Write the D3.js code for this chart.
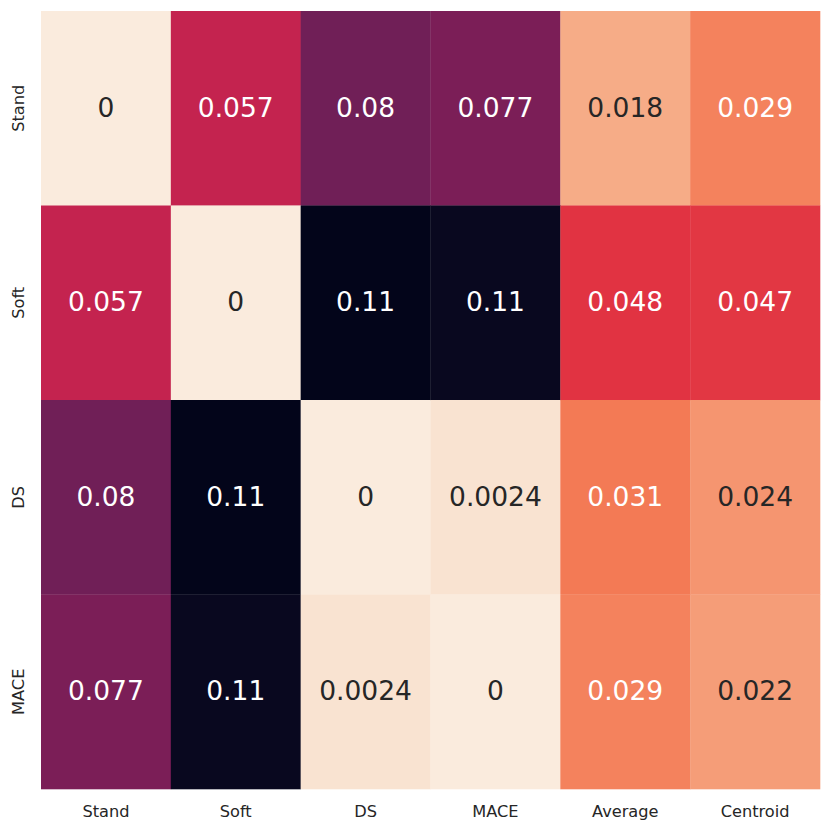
<!DOCTYPE html>
<html>
<head>
<meta charset="utf-8">
<script src="https://cdn.jsdelivr.net/npm/d3@7"></script>
<style>
  html, body { margin: 0; padding: 0; background: #ffffff; }
  svg { display: block; }
</style>
</head>
<body>
<svg id="chart" width="831" height="831"></svg>
<script>
const rowLabels = ["Stand", "Soft", "DS", "MACE"];
const colLabels = ["Stand", "Soft", "DS", "MACE", "Average", "Centroid"];
const rowStand = [0, 0.057, 0.080, 0.077, 0.018, 0.029];
const rowSoft  = [0.057, 0, 0.112, 0.110, 0.048, 0.047];
const rowDS    = [0.080, 0.112, 0, 0.0024, 0.031, 0.024];
const rowMACE  = [0.077, 0.110, 0.0024, 0, 0.029, 0.022];
const values = [rowStand, rowSoft, rowDS, rowMACE];

// rocket colormap anchors (seaborn)
const rocketStops = ["#03051a", "#35193e", "#701f57", "#ad1759", "#e13342", "#f37651", "#f6b48f", "#faebdd"];
const rocketPos = [0, 1/7, 2/7, 3/7, 4/7, 5/7, 6/7, 1];

const cells = [];
values.forEach((row, i) => row.forEach((v, j) => cells.push({r: rowLabels[i], c: colLabels[j], v})));

const vmin = d3.min(cells, d => d.v), vmax = d3.max(cells, d => d.v);
const rocket = d3.scaleLinear().domain(rocketPos).range(rocketStops).interpolate(d3.interpolateRgb);
// rocket_r
const color = v => rocket(1 - (v - vmin) / (vmax - vmin));

function lum(c) {
  const rgb = d3.rgb(c);
  const f = x => { x /= 255; return x <= 0.03928 ? x / 12.92 : Math.pow((x + 0.055) / 1.055, 2.4); };
  return 0.2126 * f(rgb.r) + 0.7152 * f(rgb.g) + 0.0722 * f(rgb.b);
}

const svg = d3.select("#chart");
const mLeft = 41, mRight = 820, mTop = 11, mBottom = 789;
const x = d3.scaleBand().domain(colLabels).range([mLeft, mRight]);
const y = d3.scaleBand().domain(rowLabels).range([mTop, mBottom]);

svg.append("g").selectAll("rect").data(cells).join("rect")
  .attr("x", d => x(d.c)).attr("y", d => y(d.r))
  .attr("width", x.bandwidth() + 0.3).attr("height", y.bandwidth() + 0.3)
  .attr("fill", d => color(d.v));

const fmt = d3.format(".2~g");
svg.append("g").selectAll("text").data(cells).join("text")
  .attr("x", d => x(d.c) + x.bandwidth() / 2)
  .attr("y", d => y(d.r) + y.bandwidth() / 2)
  .attr("text-anchor", "middle").attr("dy", "0.33em")
  .attr("font-family", "DejaVu Sans").attr("font-size", 26.5)
  .attr("fill", d => lum(color(d.v)) > 0.408 ? "#262626" : "#ffffff")
  .text(d => fmt(d.v));

const xAxis = d3.axisBottom(x).tickSize(0).tickPadding(16);
const gx = svg.append("g").attr("transform", `translate(0,${mBottom})`).call(xAxis);
gx.select(".domain").remove();
gx.selectAll("text").attr("font-family", "DejaVu Sans").attr("font-size", 16.2).attr("fill", "#262626");

const yAxis = d3.axisLeft(y).tickSize(0).tickPadding(0);
const gy = svg.append("g").attr("transform", `translate(${mLeft},0)`).call(yAxis);
gy.select(".domain").remove();
gy.selectAll("text")
  .attr("font-family", "DejaVu Sans").attr("font-size", 16.2).attr("fill", "#262626")
  .attr("text-anchor", "middle").attr("x", 0)
  .attr("transform", "translate(-23,0) rotate(-90)")
  .attr("y", 0).attr("dy", "0.36em");
</script>
</body>
</html>
